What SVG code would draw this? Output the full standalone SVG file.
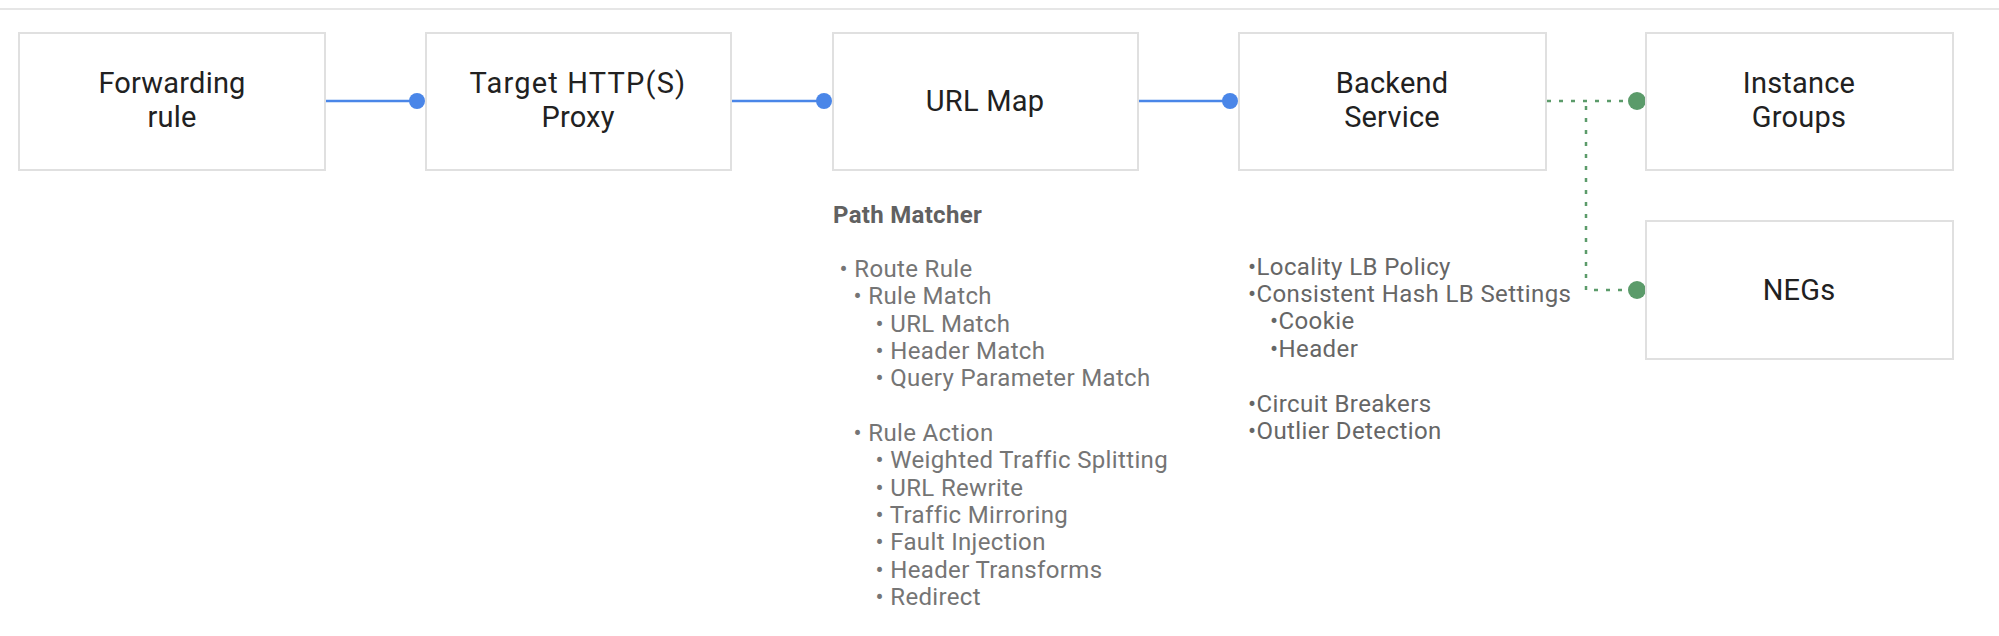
<svg xmlns="http://www.w3.org/2000/svg" width="1999" height="636" viewBox="0 0 1999 636">
<defs>
<style>
.box{fill:#ffffff;stroke:#e0e0e0;stroke-width:2}
.lbl{font-family:Roboto,"Liberation Sans",sans-serif;font-size:29px;letter-spacing:0.2px;fill:#212121;text-anchor:middle}
.blue{stroke:#4a86e8;stroke-width:2.5;fill:none}
.bdot{fill:#4a86e8}
.green{stroke:#5b9b6a;stroke-width:2.5;fill:none;stroke-dasharray:4 8}
.gdot{fill:#5b9b6a}
.hd{font-family:Roboto,"Liberation Sans",sans-serif;font-size:24px;letter-spacing:0.3px;font-weight:bold;fill:#616161}
.li{font-family:Roboto,"Liberation Sans",sans-serif;font-size:24px;letter-spacing:0.35px;fill:#757575}
.lr{font-family:Roboto,"Liberation Sans",sans-serif;font-size:24px;letter-spacing:0.4px;fill:#666666}
</style>
</defs>
<rect width="1999" height="636" fill="#ffffff"/>
<line x1="0" y1="9" x2="1999" y2="9" stroke="#e6e6e6" stroke-width="2"/>
<g id="connectors">
<line class="blue" x1="325" y1="101" x2="417" y2="101"/>
<circle class="bdot" cx="417" cy="101" r="8"/>
<line class="blue" x1="731" y1="101" x2="824" y2="101"/>
<circle class="bdot" cx="824" cy="101" r="8"/>
<line class="blue" x1="1138" y1="101" x2="1230" y2="101"/>
<circle class="bdot" cx="1230" cy="101" r="8"/>
<path class="green" d="M1547 101 H1637"/>
<path class="green" d="M1586 106 V290 H1637"/>
<circle class="gdot" cx="1637" cy="101" r="9"/>
<circle class="gdot" cx="1637" cy="290" r="9"/>
</g>
<g id="forwarding-rule">
<rect class="box" x="19" y="33" width="306" height="137"/>
<text class="lbl" x="172" y="93">Forwarding</text>
<text class="lbl" x="172" y="127">rule</text>
</g>
<g id="target-proxy">
<rect class="box" x="426" y="33" width="305" height="137"/>
<text class="lbl" x="578" y="93" style="letter-spacing:1.2px">Target HTTP(S)</text>
<text class="lbl" x="578" y="127">Proxy</text>
</g>
<g id="url-map">
<rect class="box" x="833" y="33" width="305" height="137"/>
<text class="lbl" x="985" y="111">URL Map</text>
</g>
<g id="backend-service">
<rect class="box" x="1239" y="33" width="307" height="137"/>
<text class="lbl" x="1392" y="93">Backend</text>
<text class="lbl" x="1392" y="127">Service</text>
</g>
<g id="instance-groups">
<rect class="box" x="1646" y="33" width="307" height="137"/>
<text class="lbl" x="1799" y="93">Instance</text>
<text class="lbl" x="1799" y="127">Groups</text>
</g>
<g id="negs">
<rect class="box" x="1646" y="221" width="307" height="138"/>
<text class="lbl" x="1799" y="300">NEGs</text>
</g>
<g id="path-matcher">
<text class="hd" x="833" y="223">Path Matcher</text>
<text class="li" x="839.5" y="277">• Route Rule</text>
<text class="li" x="853.5" y="304">• Rule Match</text>
<text class="li" x="875.5" y="332">• URL Match</text>
<text class="li" x="875.5" y="359">• Header Match</text>
<text class="li" x="875.5" y="386">• Query Parameter Match</text>
<text class="li" x="853.5" y="441">• Rule Action</text>
<text class="li" x="875.5" y="468">• Weighted Traffic Splitting</text>
<text class="li" x="875.5" y="496">• URL Rewrite</text>
<text class="li" x="875.5" y="523">• Traffic Mirroring</text>
<text class="li" x="875.5" y="550">• Fault Injection</text>
<text class="li" x="875.5" y="578">• Header Transforms</text>
<text class="li" x="875.5" y="605">• Redirect</text>
</g>
<g id="backend-settings">
<text class="lr" x="1248" y="275">•Locality LB Policy</text>
<text class="lr" x="1248" y="302">•Consistent Hash LB Settings</text>
<text class="lr" x="1270" y="329">•Cookie</text>
<text class="lr" x="1270" y="357">•Header</text>
<text class="lr" x="1248" y="412">•Circuit Breakers</text>
<text class="lr" x="1248" y="439">•Outlier Detection</text>
</g>
</svg>
